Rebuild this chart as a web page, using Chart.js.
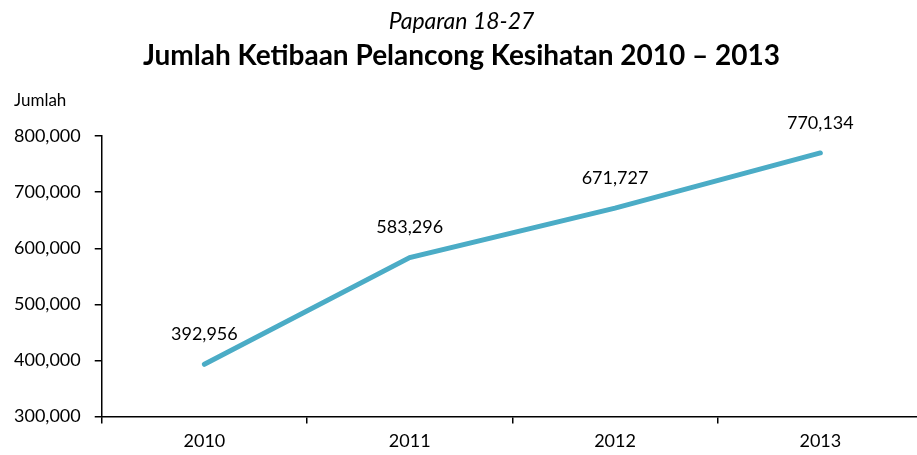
<!DOCTYPE html>
<html>
<head>
<meta charset="utf-8">
<script src="https://cdn.jsdelivr.net/npm/chart.js@4/dist/chart.umd.min.js"></script>
<style>
html,body{margin:0;padding:0;background:#fff;overflow:hidden;}
#wrap{width:923px;height:455px;}
</style>
</head>
<body>
<div id="wrap"><canvas id="c" width="923" height="455"></canvas></div>
<script>
const categories = ['2010', '2011', '2012', '2013'];
const arrivals = [392956, 583296, 671727, 770134];
const yTicks = [300000, 400000, 500000, 600000, 700000, 800000];
const titleText = 'Paparan 18-27';
const subtitleText = 'Jumlah Ketibaan Pelancong Kesihatan 2010 – 2013';
const yAxisLabel = 'Jumlah';

const fmt = v => v.toLocaleString('en-US');
const FONT = 'Lato';

const extras = {
  id: 'extras',
  afterDatasetsDraw(chart) {
    const ctx = chart.ctx;
    ctx.save();
    ctx.fillStyle = '#000';
    ctx.font = '18px ' + FONT;
    ctx.textAlign = 'center';
    ctx.textBaseline = 'middle';
    const meta = chart.getDatasetMeta(0);
    meta.data.forEach((pt, i) => {
      ctx.fillText(fmt(arrivals[i]), pt.x, pt.y - 30);
    });
    ctx.font = '17px ' + FONT;
    ctx.textAlign = 'left';
    ctx.fillText(yAxisLabel, 14, 101);
    ctx.restore();
  }
};

new Chart(document.getElementById('c'), {
  type: 'line',
  data: {
    labels: categories,
    datasets: [{
      data: arrivals,
      borderColor: '#4BACC6',
      borderWidth: 5,
      pointRadius: 0,
      pointHoverRadius: 0,
      tension: 0,
      borderCapStyle: 'round',
      fill: false
    }]
  },
  options: {
    responsive: false,
    animation: false,
    devicePixelRatio: 1,
    layout: { padding: { left: 0, right: 0, top: 0, bottom: -4 } },
    plugins: {
      legend: { display: false },
      tooltip: { enabled: false },
      title: {
        display: true,
        text: titleText,
        color: '#000',
        font: { family: FONT, size: 23, style: 'italic', weight: 'normal' },
        padding: { top: 8, bottom: 0 }
      },
      subtitle: {
        display: true,
        text: subtitleText,
        color: '#000',
        font: { family: FONT, size: 28, weight: 'bold' },
        padding: { top: 4, bottom: 63 }
      }
    },
    scales: {
      x: {
        offset: true,
        grid: { offset: true, drawOnChartArea: false, drawTicks: true, tickLength: 7, color: '#000', lineWidth: 1.5 },
        border: { color: '#000', width: 1.5 },
        ticks: { color: '#000', font: { family: FONT, size: 18 }, padding: 7 }
      },
      y: {
        min: 300000,
        max: 800000,
        afterBuildTicks(axis) { axis.ticks = yTicks.map(v => ({ value: v })); },
        grid: { drawOnChartArea: false, drawTicks: true, tickLength: 7, color: '#000', lineWidth: 1.5 },
        border: { color: '#000', width: 1.5 },
        ticks: { color: '#000', font: { family: FONT, size: 18 }, padding: 14, callback: v => fmt(v) }
      }
    }
  },
  plugins: [extras]
});
</script>
</body>
</html>
